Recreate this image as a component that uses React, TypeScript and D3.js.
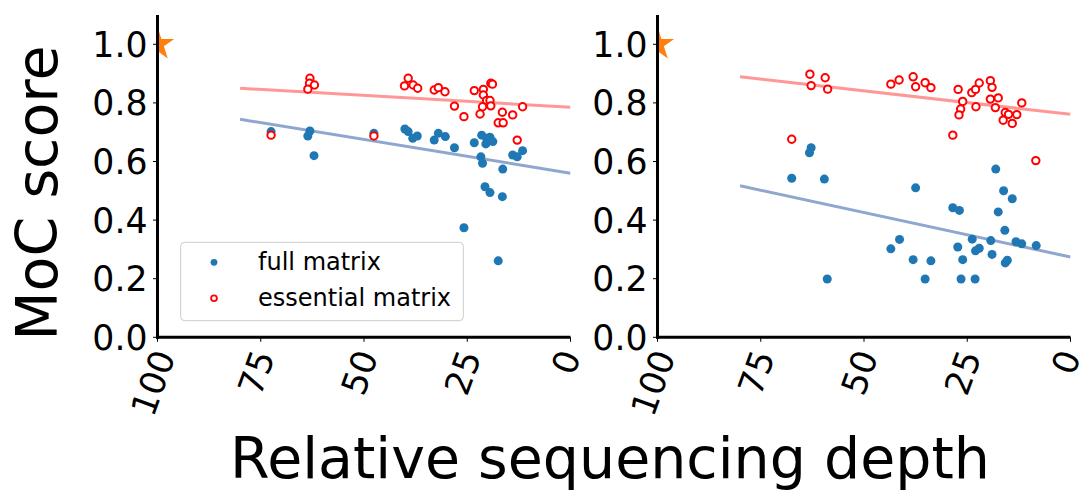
import React from "react";
import * as d3 from "d3";

// Tick values
const xTicks = [100, 75, 50, 25, 0];
const yTicks = [0, 0.2, 0.4, 0.6, 0.8, 1.0];

// Left panel: full matrix
const leftFullDepth = [72.5, 63.1, 63.6, 62.1, 47.6, 40.1, 39.3, 38.2, 37.1, 32.0, 33.0, 30.3, 28.1, 23.3, 21.5, 20.3, 19.5, 18.8, 20.5, 21.7, 21.3, 16.4, 20.7, 19.5, 16.5, 14.0, 12.9, 11.6, 25.8, 17.5];
const leftFullScore = [0.702, 0.704, 0.687, 0.620, 0.696, 0.711, 0.702, 0.679, 0.687, 0.696, 0.673, 0.685, 0.647, 0.664, 0.690, 0.679, 0.683, 0.668, 0.660, 0.616, 0.594, 0.574, 0.514, 0.494, 0.480, 0.622, 0.616, 0.637, 0.374, 0.261];

// Left panel: essential matrix
const leftEssDepth = [72.5, 47.6, 63.1, 63.2, 62.0, 63.6, 39.3, 40.2, 38.1, 37.0, 33.0, 32.0, 30.4, 28.1, 25.8, 23.3, 21.1, 21.1, 19.3, 18.9, 20.3, 19.5, 21.3, 19.3, 21.9, 16.5, 17.5, 16.3, 14.0, 11.6, 12.9];
const leftEssScore = [0.690, 0.687, 0.884, 0.867, 0.861, 0.847, 0.884, 0.858, 0.861, 0.850, 0.844, 0.852, 0.838, 0.789, 0.753, 0.842, 0.846, 0.827, 0.867, 0.864, 0.808, 0.808, 0.787, 0.790, 0.762, 0.768, 0.732, 0.732, 0.759, 0.787, 0.673];

// Right panel: full matrix
const rightFullDepth = [62.8, 63.2, 67.5, 59.6, 58.9, 37.5, 41.4, 43.5, 38.1, 33.8, 35.2, 28.5, 26.9, 27.3, 26.1, 26.5, 23.8, 23.0, 22.1, 23.1, 18.1, 16.2, 14.1, 17.5, 15.9, 19.3, 19.0, 15.8, 15.3, 13.2, 11.8, 8.3];
const rightFullScore = [0.647, 0.630, 0.543, 0.540, 0.199, 0.510, 0.334, 0.302, 0.265, 0.261, 0.199, 0.442, 0.433, 0.308, 0.265, 0.199, 0.335, 0.295, 0.304, 0.199, 0.574, 0.500, 0.473, 0.428, 0.365, 0.330, 0.283, 0.254, 0.263, 0.326, 0.319, 0.313];

// Right panel: essential matrix
const rightEssDepth = [67.5, 63.1, 62.8, 59.4, 58.8, 43.5, 41.5, 38.1, 37.5, 35.2, 33.8, 27.2, 28.5, 26.1, 26.6, 27.0, 23.9, 23.0, 22.1, 22.9, 19.4, 19.0, 19.4, 17.5, 18.2, 15.8, 15.0, 13.0, 16.3, 14.1, 11.8, 8.4];
const rightEssScore = [0.676, 0.898, 0.859, 0.886, 0.847, 0.864, 0.878, 0.889, 0.855, 0.869, 0.852, 0.846, 0.690, 0.805, 0.779, 0.759, 0.835, 0.846, 0.868, 0.787, 0.876, 0.853, 0.813, 0.817, 0.784, 0.767, 0.761, 0.760, 0.741, 0.730, 0.800, 0.603];

// Linear trend lines (depth endpoints and scores)
const fitDepth = [80, 0];
const leftFullFit = [0.744, 0.560];
const leftEssFit = [0.850, 0.785];
const rightFullFit = [0.517, 0.274];
const rightEssFit = [0.889, 0.761];

// Full-depth reference point
const referenceDepth = 100;
const referenceScore = 1.0;

const legendLabels = ["full matrix", "essential matrix"];

const FONT = "DejaVu Sans, Verdana, sans-serif";
const BLUE = "#1f77b4";
const RED = "#ff0000";
const BLUE_LINE = "#8fa7ce";
const RED_LINE = "#ff9797";
const ORANGE = "#ff7f0e";

const TOP = 15;
const BOTTOM = 337.3;
const WIDTH = 413;
const TICK_FS = 34.7;
const LABEL_FS = 57;

type PanelProps = {
  id: string;
  left: number;
  fullDepth: number[];
  fullScore: number[];
  essDepth: number[];
  essScore: number[];
  fullFit: number[];
  essFit: number[];
  legend: boolean;
};

function Panel({ id, left, fullDepth, fullScore, essDepth, essScore, fullFit, essFit, legend }: PanelProps) {
  const x = d3.scaleLinear().domain([100, 0]).range([left, left + WIDTH]);
  const y = d3.scaleLinear().domain([0, 1.1]).range([BOTTOM, TOP]);
  const line = d3
    .line<[number, number]>()
    .x((d) => x(d[0]))
    .y((d) => y(d[1]));
  const fullLine: [number, number][] = fitDepth.map((d, i) => [d, fullFit[i]]);
  const essLine: [number, number][] = fitDepth.map((d, i) => [d, essFit[i]]);
  const star = d3.symbol(d3.symbolStar, 345)() as string;

  // rotated x tick label placement (rotation 70°, box centred on tick)
  const rot = (70 * Math.PI) / 180;
  const c = Math.cos(rot);
  const s = Math.sin(rot);
  const asc = 0.76 * TICK_FS;
  const desc = 0.24 * TICK_FS;
  const pad = 9.7;

  return (
    <g>
      <defs>
        <clipPath id={`clip-${id}`}>
          <rect x={left} y={TOP} width={WIDTH} height={BOTTOM - TOP} />
        </clipPath>
      </defs>
      <g clipPath={`url(#clip-${id})`}>
        <path d={line(fullLine) as string} stroke={BLUE_LINE} strokeWidth={3} fill="none" />
        <path d={line(essLine) as string} stroke={RED_LINE} strokeWidth={3} fill="none" />
        {fullDepth.map((d, i) => (
          <circle key={`f${i}`} cx={x(d)} cy={y(fullScore[i])} r={4.5} fill={BLUE} />
        ))}
        {essDepth.map((d, i) => (
          <circle key={`e${i}`} cx={x(d)} cy={y(essScore[i])} r={3.7} fill="#ffffff" stroke={RED} strokeWidth={2} />
        ))}
        <path d={star} transform={`translate(${x(referenceDepth)},${y(referenceScore)})`} fill={ORANGE} />
      </g>

      {/* y ticks */}
      {yTicks.map((t) => (
        <g key={`y${t}`}>
          <line x1={left - 4.5} x2={left} y1={y(t)} y2={y(t)} stroke="#000" strokeWidth={1} />
          <text
            x={left - 10}
            y={y(t)}
            dy="0.36em"
            textAnchor="end"
            fontFamily={FONT}
            fontSize={TICK_FS}
            fill="#000"
          >
            {d3.format(".1f")(t)}
          </text>
        </g>
      ))}

      {/* x ticks */}
      {xTicks.map((t) => {
        const label = String(t);
        const w = label.length * 0.636 * TICK_FS;
        const cx = (c * w + s * desc - s * asc) / 2;
        const ox = x(t) - cx - 1.5;
        const oy = BOTTOM + pad + s * w + c * asc;
        return (
          <g key={`x${t}`}>
            <line x1={x(t)} x2={x(t)} y1={BOTTOM} y2={BOTTOM + 4.5} stroke="#000" strokeWidth={1} />
            <text
              transform={`translate(${ox},${oy}) rotate(-70)`}
              fontFamily={FONT}
              fontSize={TICK_FS}
              fill="#000"
            >
              {label}
            </text>
          </g>
        );
      })}

      {/* spines */}
      <line x1={left} x2={left} y1={TOP} y2={BOTTOM + 1.5} stroke="#000" strokeWidth={3} />
      <line x1={left - 1.5} x2={left + WIDTH} y1={BOTTOM} y2={BOTTOM} stroke="#000" strokeWidth={3} />

      {legend && (
        <g>
          <rect x={180.7} y={242.3} width={282.6} height={78.4} rx={4} fill="#ffffff" fillOpacity={0.8} stroke="#cccccc" strokeWidth={1} />
          <circle cx={214} cy={262.3} r={3.4} fill={BLUE} />
          <text x={258} y={270} fontFamily={FONT} fontSize={24} fill="#000">
            {legendLabels[0]}
          </text>
          <circle cx={214} cy={298.3} r={2.9} fill="#ffffff" stroke={RED} strokeWidth={1.8} />
          <text x={258} y={306} fontFamily={FONT} fontSize={24} fill="#000">
            {legendLabels[1]}
          </text>
        </g>
      )}
    </g>
  );
}

export default function App() {
  return (
    <svg
      width={1081}
      height={493}
      style={{ position: "absolute", left: 0, top: 0, background: "#ffffff" }}
    >
      <rect x={0} y={0} width={1081} height={493} fill="#ffffff" />
      <Panel
        id="left"
        left={157.5}
        fullDepth={leftFullDepth}
        fullScore={leftFullScore}
        essDepth={leftEssDepth}
        essScore={leftEssScore}
        fullFit={leftFullFit}
        essFit={leftEssFit}
        legend={true}
      />
      <Panel
        id="right"
        left={657.5}
        fullDepth={rightFullDepth}
        fullScore={rightFullScore}
        essDepth={rightEssDepth}
        essScore={rightEssScore}
        fullFit={rightFullFit}
        essFit={rightEssFit}
        legend={false}
      />
      <text
        transform="translate(57,193) rotate(-90)"
        textAnchor="middle"
        fontFamily={FONT}
        fontSize={LABEL_FS}
        fill="#000"
      >
        MoC score
      </text>
      <text x={610} y={478} textAnchor="middle" fontFamily={FONT} fontSize={LABEL_FS} fill="#000">
        Relative sequencing depth
      </text>
    </svg>
  );
}
